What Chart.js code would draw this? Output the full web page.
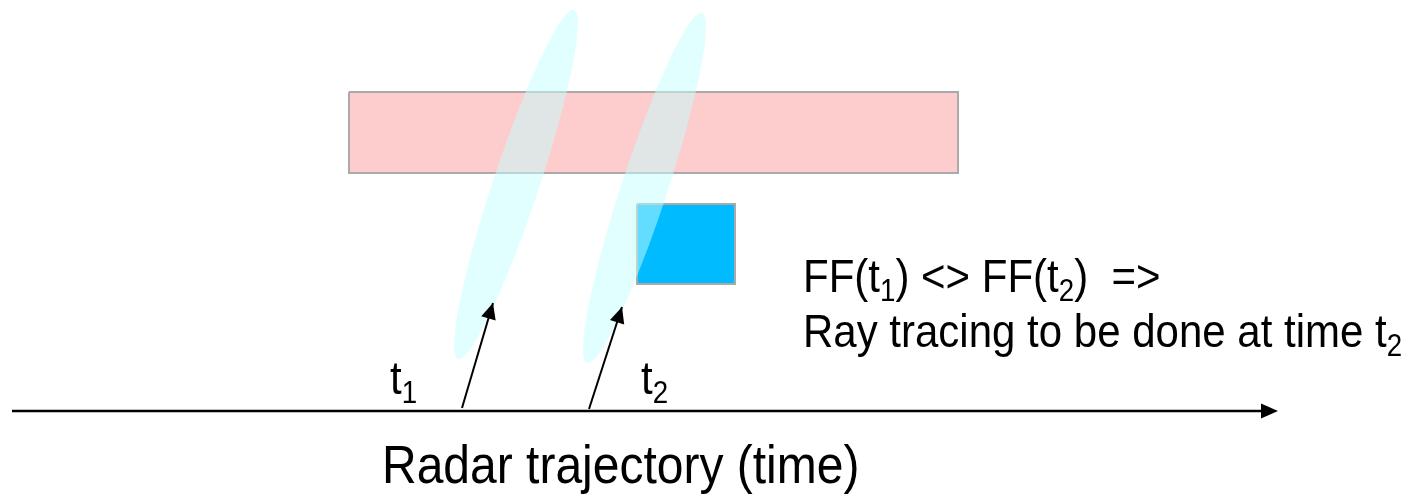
<!DOCTYPE html>
<html>
<head>
<meta charset="utf-8">
<script src="https://cdn.jsdelivr.net/npm/chart.js@4"></script>
<style>
  html, body { margin: 0; padding: 0; background: #ffffff; }
  #c { display: block; }
</style>
</head>
<body>
<canvas id="c" width="1425" height="496"></canvas>
<script>
// Scene is laid out in a plain x/y frame (x to the right, y downwards)

// obstacle band and target box, as corner lists
const bandX = [349, 958, 958, 349, 349];
const bandY = [92, 92, 173, 173, 92];
const boxX  = [637, 735, 735, 637, 637];
const boxY  = [204, 204, 284, 284, 204];

// radar beams: top tip, bottom tip, half width
const beamTop    = [[574, 10], [702, 13]];
const beamBottom = [[458, 359], [587, 363]];
const beamHalf   = [23, 23];

// look arrows from the trajectory up into the beams
const lookFrom = [[462, 408], [589, 409]];
const lookTo   = [[493, 303], [622, 307]];

// trajectory axis
const trackX = [12, 1278];
const trackY = [411, 411];

// labels
const timeNames = ['1', '2'];
const timeLabelAt = [[390, 394], [641, 394]];
const axisTitle = 'Radar trajectory (time)';
const noteLine1 = [['FF(t', false], ['1', true], [') <> FF(t', false], ['2', true], [')  =>', false]];
const noteLine2 = [['Ray tracing to be done at time t', false], ['2', true]];

const pts = (xs, ys) => xs.map((x, i) => ({ x: x, y: ys[i] }));

// beams are drawn right after the target box so they sit over the rectangles
const beamPlugin = {
  id: 'beams',
  afterDatasetDraw(chart, args) {
    if (chart.data.datasets[args.index].label !== 'target') return;
    const xs = chart.scales.x, ys = chart.scales.y, ctx = chart.ctx;
    ctx.save();
    ctx.fillStyle = 'rgba(196,255,255,0.5)';
    beamTop.forEach((t, i) => {
      const b = beamBottom[i];
      const x1 = xs.getPixelForValue(t[0]), y1 = ys.getPixelForValue(t[1]);
      const x2 = xs.getPixelForValue(b[0]), y2 = ys.getPixelForValue(b[1]);
      const len = Math.hypot(x2 - x1, y2 - y1);
      ctx.beginPath();
      ctx.ellipse((x1 + x2) / 2, (y1 + y2) / 2, len / 2, beamHalf[i],
        Math.atan2(y2 - y1, x2 - x1), 0, Math.PI * 2);
      ctx.fill();
    });
    ctx.restore();
  }
};

function head(ctx, fx, fy, tx, ty, len, half) {
  const a = Math.atan2(ty - fy, tx - fx);
  ctx.beginPath();
  ctx.moveTo(tx, ty);
  ctx.lineTo(tx - len * Math.cos(a) + half * Math.sin(a), ty - len * Math.sin(a) - half * Math.cos(a));
  ctx.lineTo(tx - len * Math.cos(a) - half * Math.sin(a), ty - len * Math.sin(a) + half * Math.cos(a));
  ctx.closePath();
  ctx.fill();
}

// draws text pieces, subscripts smaller and lowered; glyphs a bit taller like the slide font
function richText(ctx, parts, x, y, size) {
  ctx.save();
  ctx.translate(x, y);
  ctx.scale(1, 1.1);
  let cx = 0;
  parts.forEach(p => {
    const s = p[1] ? size * 0.66 : size;
    ctx.font = s + 'px "Liberation Sans", Arial, sans-serif';
    ctx.fillText(p[0], cx, p[1] ? size * 0.2 : 0);
    cx += ctx.measureText(p[0]).width;
  });
  ctx.restore();
}

const overlayPlugin = {
  id: 'overlay',
  afterDatasetsDraw(chart) {
    const xs = chart.scales.x, ys = chart.scales.y, ctx = chart.ctx;
    ctx.save();
    ctx.fillStyle = '#000000';
    // arrow heads
    lookFrom.forEach((f, i) => {
      const t = lookTo[i];
      head(ctx, xs.getPixelForValue(f[0]), ys.getPixelForValue(f[1]),
        xs.getPixelForValue(t[0]), ys.getPixelForValue(t[1]), 16, 7.5);
    });
    head(ctx, xs.getPixelForValue(trackX[0]), ys.getPixelForValue(trackY[0]),
      xs.getPixelForValue(trackX[1]), ys.getPixelForValue(trackY[1]), 17, 7.5);
    // labels
    ctx.textBaseline = 'alphabetic';
    timeNames.forEach((n, i) => {
      richText(ctx, [['t', false], [n, true]],
        xs.getPixelForValue(timeLabelAt[i][0]), ys.getPixelForValue(timeLabelAt[i][1]), 42);
    });
    richText(ctx, noteLine1, xs.getPixelForValue(803), ys.getPixelForValue(292), 42);
    richText(ctx, noteLine2, xs.getPixelForValue(803), ys.getPixelForValue(347), 42);
    richText(ctx, [[axisTitle, false]], xs.getPixelForValue(382), ys.getPixelForValue(483), 48);
    ctx.restore();
  }
};

const lineSet = (label, data, extra) => Object.assign({
  label: label,
  data: data,
  showLine: true,
  pointRadius: 0,
  tension: 0,
  borderColor: '#000000',
  borderWidth: 2,
  fill: false
}, extra);

new Chart(document.getElementById('c'), {
  type: 'scatter',
  data: {
    datasets: [
      lineSet('band', pts(bandX, bandY), { order: 4, fill: 'shape', backgroundColor: '#fdcccc', borderColor: '#aaaaaa', borderWidth: 2 }),
      lineSet('target', pts(boxX, boxY), { order: 3, fill: 'shape', backgroundColor: '#00bbff', borderColor: '#aaaaaa', borderWidth: 2 }),
      lineSet('look t1', [{ x: lookFrom[0][0], y: lookFrom[0][1] }, { x: lookTo[0][0], y: lookTo[0][1] }], { order: 1 }),
      lineSet('look t2', [{ x: lookFrom[1][0], y: lookFrom[1][1] }, { x: lookTo[1][0], y: lookTo[1][1] }], { order: 1 }),
      lineSet('track', [{ x: trackX[0], y: trackY[0] }, { x: trackX[1] - 14, y: trackY[1] }], { order: 1, borderWidth: 2.5 })
    ]
  },
  options: {
    responsive: false,
    devicePixelRatio: 1,
    animation: false,
    layout: { padding: 0 },
    plugins: { legend: { display: false }, tooltip: { enabled: false } },
    scales: {
      x: { type: 'linear', min: 0, max: 1425, display: false },
      y: { type: 'linear', min: 0, max: 496, reverse: true, display: false }
    }
  },
  plugins: [beamPlugin, overlayPlugin]
});
</script>
</body>
</html>
